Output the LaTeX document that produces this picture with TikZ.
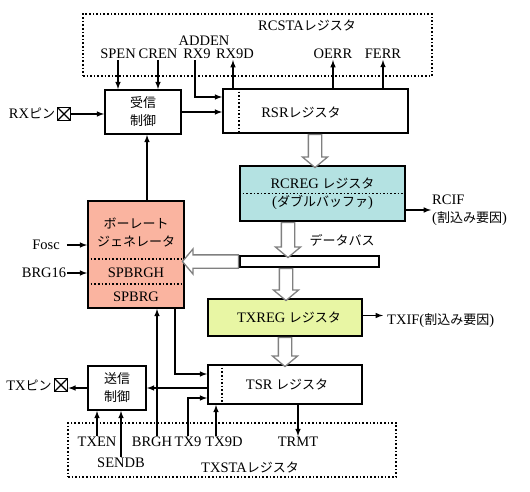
\documentclass[tikz,border=0pt]{standalone}
\usepackage{fontspec}
\setmainfont{Liberation Serif}
\newfontfamily\jpfont{Noto Sans CJK JP}
\newcommand{\ja}[1]{{\jpfont\fontsize{13}{18}\selectfont #1}}
\usetikzlibrary{shapes.arrows}

\definecolor{rcregfill}{RGB}{180,226,226}
\definecolor{baudfill}{RGB}{250,180,160}
\definecolor{txregfill}{RGB}{232,246,164}

\begin{document}
\begin{tikzpicture}[x=1pt, y=-1pt, >=latex, font=\fontsize{14.5}{18}\selectfont,
    box/.style={draw, line width=1.8pt, inner sep=0pt, align=center},
    jtext/.style={font=\jpfont\fontsize{13}{18}\selectfont},
    regframe/.style={draw, dotted, line width=1.6pt, inner sep=0pt},
    divider/.style={dotted, line width=1.6pt},
    lbl/.style={inner sep=1pt},
    sig/.style={->, line width=1.5pt},
    hollow/.style={single arrow, draw=gray, line width=1.3pt, fill=white,
        inner xsep=0pt, inner ysep=6pt, single arrow head extend=6pt,
        single arrow tip angle=100, anchor=tail, minimum height=#1},
    pinbox/.style={draw, line width=1.8pt, inner sep=0pt, minimum size=13,
        path picture={\draw[line width=1.2pt]
            (path picture bounding box.north west) -- (path picture bounding box.south east)
            (path picture bounding box.south west) -- (path picture bounding box.north east);}}]
    \useasboundingbox (0,0) rectangle (530,492);

    % RCSTA register
    \node[regframe, minimum width=349, minimum height=62] (rcsta) at (257.5,45) {};
    \node[lbl] (rcstaname) at (307,25) {RCSTA\ja{レジスタ}};
    \node[lbl] (spen) at (118,54) {SPEN};
    \node[lbl] (cren) at (158,54) {CREN};
    \node[lbl] (adden) at (204,41) {ADDEN};
    \node[lbl] (rx9) at (197,54) {RX9};
    \node[lbl] (rx9d) at (235,54) {RX9D};
    \node[lbl] (oerr) at (333,54) {OERR};
    \node[lbl] (ferr) at (383,54) {FERR};

    % Receive side
    \node[lbl] (rxname) at (32,113) {RX\ja{ピン}};
    \node[pinbox] (rxpin) at (64,114) {};
    \node[box, jtext, minimum width=76, minimum height=44] (rxctl) at (143,112) {受信\\制御};
    \node[box, minimum width=185, minimum height=44] (rsr) at (315.5,111) {};
    \node (rsrname) at (301,112) {RSR\ja{レジスタ}};
    \draw[divider] ([xshift=17]rsr.north west) -- ([xshift=17]rsr.south west);
    \node[box, fill=rcregfill, minimum width=165, minimum height=55] (rcreg) at (322.5,193.5)
        {RCREG \ja{レジスタ}\\(\ja{ダブルバッファ})};
    \draw[divider] (rcreg.west) -- (rcreg.east);
    \node[lbl, align=left, anchor=west] (rcif) at (431,210) {RCIF\\(\ja{割込み要因})};

    % Data bus
    \node[box, fill=white, minimum width=139, minimum height=11] (bus) at (309.5,261.5) {};
    \node[lbl] (busname) at (342,240) {\ja{データバス}};

    % Baud rate generator
    \node[box, fill=baudfill, minimum width=96, minimum height=107] (baud) at (136,254.5) {};
    \node[jtext, align=center] (baudname) at (136,232) {ボーレート\\ジェネレータ};
    \node (spbrgh) at (136,273) {SPBRGH};
    \node (spbrg) at (136,297) {SPBRG};
    \draw[divider] (baud.west |- 0,259) -- (baud.east |- 0,259);
    \draw[divider] (baud.west |- 0,284) -- (baud.east |- 0,284);
    \node[lbl] (fosc) at (46,245) {Fosc};
    \node[lbl] (brg16) at (44,273) {BRG16};

    % Transmit side
    \node[box, fill=txregfill, minimum width=154, minimum height=37] (txreg) at (285,317.5)
        {\hspace{8pt}TXREG \ja{レジスタ}};
    \node[lbl, anchor=west] (txif) at (386,321) {TXIF(\ja{割込み要因})};
    \node[box, minimum width=154, minimum height=39] (tsr) at (285,384.5)
        {\hspace{4pt}TSR \ja{レジスタ}};
    \draw[divider] ([xshift=15]tsr.north west) -- ([xshift=15]tsr.south west);
    \node[box, jtext, minimum width=58, minimum height=44] (txctl) at (117,388) {送信\\制御};
    \node[pinbox] (txpin) at (61,385) {};
    \node[lbl] (txname) at (29,385) {TX\ja{ピン}};

    % TXSTA register
    \node[regframe, minimum width=328, minimum height=54] (txsta) at (232,450) {};
    \node[lbl] (txstaname) at (250,467) {TXSTA\ja{レジスタ}};
    \node[lbl] (txen) at (97,442) {TXEN};
    \node[lbl] (sendb) at (121,463) {SENDB};
    \node[lbl] (brgh) at (152,442) {BRGH};
    \node[lbl] (tx9) at (188,442) {TX9};
    \node[lbl] (tx9d) at (224,442) {TX9D};
    \node[lbl] (trmt) at (298,442) {TRMT};

    % Control bits into / out of RCSTA
    \draw[sig] (spen.south) -- (spen.south |- rxctl.north);
    \draw[sig] (cren.south) -- (cren.south |- rxctl.north);
    \draw[sig] ([xshift=-2]rx9.south) |- ([yshift=14]rsr.west);
    \draw[sig] ([xshift=-2]rsr.north -| rx9d) -- ([xshift=-2]rx9d.south);
    \foreach \flag in {oerr, ferr}
        \draw[sig] (rsr.north -| \flag) -- (\flag.south);

    % Receive path
    \draw[sig] (rxpin.east) -- (rxctl.west |- rxpin.east);
    \draw[sig] (rxctl.east) -- (rsr.west |- rxctl.east);
    \draw[sig] (rcreg.east |- rcif.west) -- (rcif.west);

    % Baud rate generator connections
    \draw[sig] ([xshift=11]baud.north) -- ([xshift=11]baud.north |- rxctl.south);
    \draw[sig] ([xshift=6]fosc.east) -- (baud.west |- fosc.east);
    \draw[sig] (brg16.east) -- (baud.west |- brg16.east);
    \draw[sig] ([xshift=-10]baud.south east) |- ([yshift=10.5]tsr.west);
    \draw[sig] ([xshift=5]brgh.north) -- ([xshift=5]brgh.north |- baud.south);

    % Transmit path
    \draw[sig] ([yshift=2]txreg.east) -- ++(20,0);
    \draw[sig] (tsr.west |- txctl.east) -- (txctl.east);
    \draw[sig] (txctl.west) -- (txpin.east |- txctl.west);
    \draw[sig] (tx9.north) |- ([yshift=-13.5]tsr.west);
    \draw[sig] ([xshift=-8]tx9d.north) -- ([xshift=-8]tx9d.north |- tsr.south);
    \draw[sig] (txen.north) -- (txen.north |- txctl.south);
    \draw[sig] (sendb.north) -- (sendb.north |- txctl.south);
    \draw[sig] (tsr.south -| trmt) -- (trmt.north);

    % Data transfers
    \node[hollow=33, rotate=-90] (rsr2rcreg) at (rsr.south -| 315,0) {};
    \node[hollow=35, rotate=-90] (rcreg2bus) at (rcreg.south -| 288,0) {};
    \node[hollow=32, rotate=-90] (bus2txreg) at (bus.south -| 286,0) {};
    \node[hollow=29, rotate=-90] (txreg2tsr) at (txreg.south -| 285,0) {};
    \node[hollow=56, rotate=180] (bus2baud) at (bus.west) {};
\end{tikzpicture}
\end{document}
